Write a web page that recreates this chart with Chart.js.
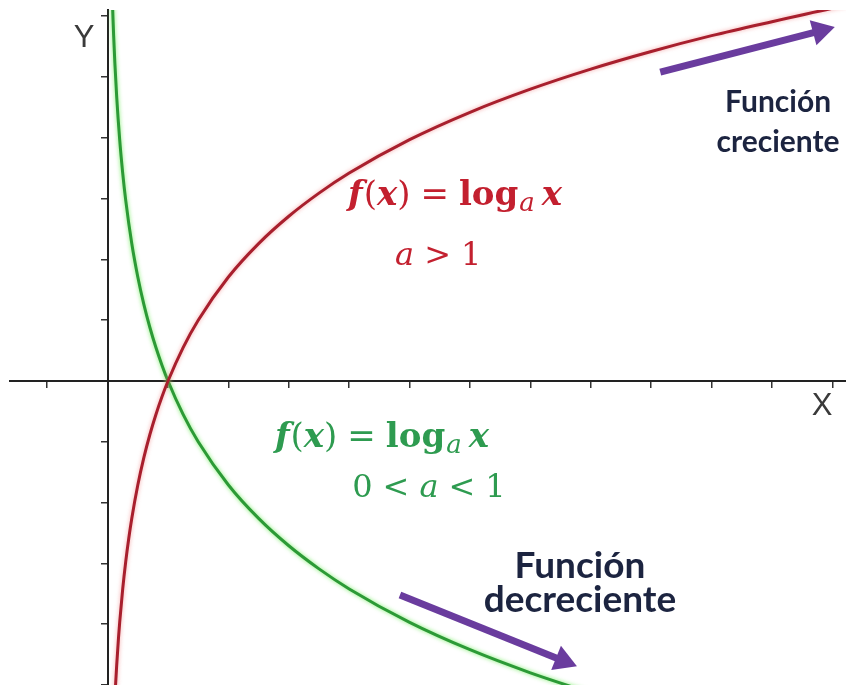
<!DOCTYPE html>
<html>
<head>
<meta charset="utf-8">
<script src="https://cdn.jsdelivr.net/npm/chart.js@4.4.1/dist/chart.umd.min.js"></script>
<style>
  html, body { margin: 0; padding: 0; background: #fff; }
  canvas { display: block; }
</style>
</head>
<body>
<canvas id="logChart" width="846" height="685"></canvas>
<script>
// red curve, a > 1
const redX = [0.12, 0.13, 0.15, 0.18, 0.2, 0.25, 0.3, 0.35, 0.4, 0.5, 0.6, 0.7, 0.8, 0.9, 1, 1.25, 1.5, 2, 2.5, 3, 3.5, 4, 5, 6, 7, 8, 9, 10, 11, 12, 12.5];
const redY = [-5.23, -5.03, -4.68, -4.23, -3.97, -3.42, -2.97, -2.59, -2.26, -1.71, -1.26, -0.88, -0.55, -0.26, 0, 0.55, 1.0, 1.71, 2.26, 2.71, 3.09, 3.42, 3.97, 4.42, 4.8, 5.13, 5.42, 5.68, 5.91, 6.13, 6.23];

// green curve, 0 < a < 1
const greenX = [0.08, 0.09, 0.1, 0.12, 0.15, 0.2, 0.25, 0.3, 0.4, 0.5, 0.6, 0.7, 0.8, 0.9, 1, 1.25, 1.5, 2, 2.5, 3, 3.5, 4, 5, 6, 7, 8];
const greenY = [6.23, 5.94, 5.68, 5.23, 4.68, 3.97, 3.42, 2.97, 2.26, 1.71, 1.26, 0.88, 0.55, 0.26, 0, -0.55, -1.0, -1.71, -2.26, -2.71, -3.09, -3.42, -3.97, -4.42, -4.8, -5.13];

// purple arrows: tail -> head
const upArrowX = [9.15, 11.8];
const upArrowY = [5.08, 5.76];
const downArrowX = [4.84, 7.54];
const downArrowY = [-3.52, -4.6];

const axisNames = ['X', 'Y'];
const labelUp = ['Función', 'creciente'];
const labelDown = ['Función', 'decreciente'];

const toPoints = (xs, ys) => xs.map((v, i) => ({ x: v, y: ys[i] }));

const glow = {
  id: 'glow',
  beforeDatasetDraw(chart, args) {
    const ds = chart.data.datasets[args.index];
    if (!ds.glow) return;
    chart.ctx.save();
    chart.ctx.shadowColor = ds.glow;
    chart.ctx.shadowBlur = 4;
  },
  afterDatasetDraw(chart, args) {
    if (chart.data.datasets[args.index].glow) chart.ctx.restore();
  }
};

function runs(ctx, parts, x, y) {
  let cx = x;
  parts.forEach(p => {
    ctx.font = p[1];
    ctx.fillText(p[0], cx, y + (p[2] || 0));
    cx += ctx.measureText(p[0]).width + (p[3] || 0);
  });
}

const notes = {
  id: 'notes',
  afterDatasetsDraw(chart) {
    const ctx = chart.ctx;
    const sx = chart.scales.x, sy = chart.scales.y;
    const px = v => sx.getPixelForValue(v);
    const py = v => sy.getPixelForValue(v);
    const S = 34;
    const bi = `bold italic ${S}px "DejaVu Serif"`;
    const rg = `${S}px "DejaVu Serif"`;
    const bd = `bold ${S}px "DejaVu Serif"`;
    const it = `italic ${S - 2}px "DejaVu Serif"`;
    const sm = `${S - 2}px "DejaVu Serif"`;
    const sub = `italic ${Math.round(S * 0.75)}px "DejaVu Serif"`;
    const formula = [['f', bi, 0, 1], ['(', rg], ['x', bi], [')', rg, 0, 10], ['=', rg, 0, 10], ['log', bd, 0, 1], ['a', sub, 6, 7], ['x', bi]];

    ctx.save();
    ctx.textBaseline = 'alphabetic';
    ctx.textAlign = 'left';

    ctx.fillStyle = '#c3202f';
    runs(ctx, formula, px(3.98), py(2.89));
    runs(ctx, [['a', it, 0, 10], ['>', sm, 0, 10], ['1', sm]], px(4.76), py(1.91));

    ctx.fillStyle = '#2e9b50';
    runs(ctx, formula, px(2.77), py(-1.09));
    runs(ctx, [['0', sm, 0, 10], ['<', sm, 0, 10], ['a', it, 0, 10], ['<', sm, 0, 10], ['1', sm]], px(4.05), py(-1.91));

    ctx.textAlign = 'center';
    ctx.fillStyle = '#1c2440';
    ctx.font = 'bold 30px Lato';
    ctx.fillText(labelUp[0], px(11.1), py(4.42));
    ctx.fillText(labelUp[1], px(11.1), py(3.77));
    ctx.font = 'bold 37px Lato';
    ctx.fillText(labelDown[0], px(7.82), py(-3.24));
    ctx.fillText(labelDown[1], px(7.82), py(-3.80));

    ctx.fillStyle = '#3a3a3a';
    ctx.font = '31px "Liberation Sans"';
    ctx.fillText(axisNames[0], px(11.83), py(-0.56));
    ctx.fillText(axisNames[1], px(-0.39), py(5.49));
    ctx.restore();
  }
};

const axisLook = {
  type: 'linear',
  grid: { drawOnChartArea: false, drawTicks: true, tickLength: 6, color: '#333', lineWidth: 1.5 },
  border: { display: true, color: '#222', width: 2 },
  ticks: { display: false, stepSize: 1, includeBounds: false }
};

new Chart(document.getElementById('logChart'), {
  type: 'scatter',
  data: {
    datasets: [
      {
        data: toPoints(upArrowX, upArrowY),
        showLine: true, borderColor: '#6a3c9e', borderWidth: 7,
        pointRadius: [0, 15], pointStyle: 'triangle', pointRotation: [0, 75],
        pointBackgroundColor: '#6a3c9e', pointBorderWidth: 0
      },
      {
        data: toPoints(downArrowX, downArrowY),
        showLine: true, borderColor: '#6a3c9e', borderWidth: 7,
        pointRadius: [0, 15], pointStyle: 'triangle', pointRotation: [0, 112],
        pointBackgroundColor: '#6a3c9e', pointBorderWidth: 0
      },
      {
        data: toPoints(redX, redY),
        showLine: true, borderColor: '#a81f2d', borderWidth: 3,
        pointRadius: 0, cubicInterpolationMode: 'monotone', glow: 'rgba(240,110,110,0.6)'
      },
      {
        data: toPoints(greenX, greenY),
        showLine: true, borderColor: '#2c9a36', borderWidth: 3,
        pointRadius: 0, cubicInterpolationMode: 'monotone', glow: 'rgba(110,235,90,0.9)'
      }
    ]
  },
  options: {
    responsive: false,
    animation: false,
    events: [],
    layout: { autoPadding: false, padding: { top: 10, left: 10, right: 0, bottom: 0 } },
    plugins: { legend: { display: false }, tooltip: { enabled: false } },
    scales: {
      x: Object.assign({}, axisLook, {
        min: -1.616, max: 12.225, position: { y: 0 },
        afterFit(scale) { scale.height = 0; }
      }),
      y: Object.assign({}, axisLook, {
        min: -5.0, max: 6.102, position: { x: 0 },
        afterFit(scale) { scale.width = 0; }
      })
    }
  },
  plugins: [glow, notes]
});
</script>
</body>
</html>
